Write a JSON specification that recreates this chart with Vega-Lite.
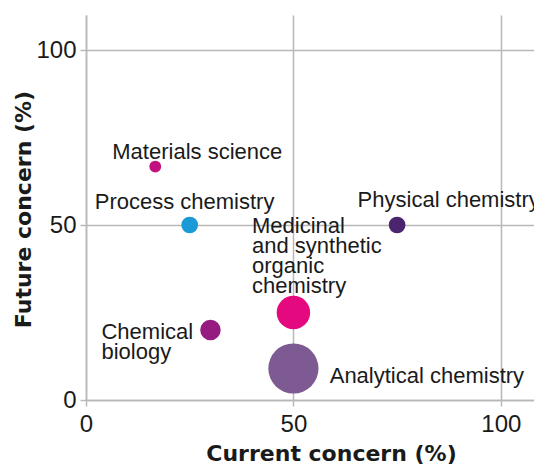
{
  "$schema": "https://vega.github.io/schema/vega-lite/v6.json",
  "autosize": {"type": "none"},
  "padding": {"left": 86, "top": 15, "right": 0, "bottom": 65},
  "width": 448,
  "height": 385,
  "background": "white",
  "config": {
    "view": {"stroke": null},
    "text": {"font": "Liberation Sans", "fontSize": 22, "color": "#1a1a1a", "lineHeight": 20, "lineBreak": "\n", "align": "left", "baseline": "alphabetic"}
  },
  "data": {
    "values": [
      {"field": "Materials science", "label": "Materials science", "current": 16.7, "future": 66.7, "n": 1},
      {"field": "Process chemistry", "label": "Process chemistry", "current": 25, "future": 50, "n": 2},
      {"field": "Physical chemistry", "label": "Physical chemistry", "current": 75, "future": 50, "n": 2},
      {"field": "Medicinal and synthetic organic chemistry", "label": "Medicinal\nand synthetic\norganic\nchemistry", "current": 50, "future": 25, "n": 8},
      {"field": "Chemical biology", "label": "Chemical\nbiology", "current": 30, "future": 20, "n": 3},
      {"field": "Analytical chemistry", "label": "Analytical chemistry", "current": 50, "future": 9, "n": 18}
    ]
  },
  "encoding": {
    "x": {
      "field": "current", "type": "quantitative",
      "scale": {"domain": [0, 108], "nice": false, "zero": true},
      "axis": {
        "values": [0, 50, 100], "grid": true, "gridColor": "#b8b8b8", "gridWidth": 1.5, "labelFlush": false,
        "domainColor": "#b8b8b8", "domainWidth": 1.5, "tickColor": "#b8b8b8", "tickWidth": 1.5, "tickSize": 6,
        "labelFont": "Liberation Sans", "labelFontSize": 24, "labelColor": "#1a1a1a", "labelPadding": 6,
        "title": "Current concern (%)", "titleFont": "DejaVu Sans", "titleFontSize": 22, "titleFontWeight": "bold",
        "titleColor": "#1a1a1a", "titleX": 245, "titleY": 60, "titleAlign": "center", "titleBaseline": "alphabetic"
      }
    },
    "y": {
      "field": "future", "type": "quantitative",
      "scale": {"domain": [0, 110], "nice": false, "zero": true},
      "axis": {
        "values": [0, 50, 100], "grid": true, "gridColor": "#b8b8b8", "gridWidth": 1.5, "labelFlush": false,
        "domainColor": "#b8b8b8", "domainWidth": 1.5, "tickColor": "#b8b8b8", "tickWidth": 1.5, "tickSize": 6,
        "labelFont": "Liberation Sans", "labelFontSize": 24, "labelColor": "#1a1a1a", "labelPadding": 4,
        "title": "Future concern (%)", "titleFont": "DejaVu Sans", "titleFontSize": 22, "titleFontWeight": "bold",
        "titleColor": "#1a1a1a", "titleX": -56, "titleY": 194, "titleAngle": -90, "titleAlign": "center", "titleBaseline": "alphabetic"
      }
    }
  },
  "layer": [
    {
      "mark": {"type": "circle", "opacity": 1},
      "encoding": {
        "size": {"field": "n", "type": "quantitative", "scale": {"domain": [0, 18], "range": [0, 2520]}, "legend": null},
        "color": {
          "field": "field", "type": "nominal", "legend": null,
          "scale": {
            "domain": ["Materials science", "Process chemistry", "Physical chemistry", "Medicinal and synthetic organic chemistry", "Chemical biology", "Analytical chemistry"],
            "range": ["#c2117e", "#1a9ad6", "#4b2470", "#e5097f", "#951b81", "#7d5a91"]
          }
        }
      }
    },
    {
      "transform": [{"filter": "datum.field === 'Materials science'"}],
      "mark": {"type": "text", "dx": -43, "dy": -8},
      "encoding": {"text": {"field": "label"}}
    },
    {
      "transform": [{"filter": "datum.field === 'Process chemistry'"}],
      "mark": {"type": "text", "dx": -95, "dy": -16},
      "encoding": {"text": {"field": "label"}}
    },
    {
      "transform": [{"filter": "datum.field === 'Physical chemistry'"}],
      "mark": {"type": "text", "dx": -39.5, "dy": -18},
      "encoding": {"text": {"field": "label"}}
    },
    {
      "transform": [{"filter": "datum.field === 'Medicinal and synthetic organic chemistry'"}],
      "mark": {"type": "text", "dx": -41.4, "dy": -79.3},
      "encoding": {"text": {"field": "label"}}
    },
    {
      "transform": [{"filter": "datum.field === 'Chemical biology'"}],
      "mark": {"type": "text", "dx": -109, "dy": 8.7},
      "encoding": {"text": {"field": "label"}}
    },
    {
      "transform": [{"filter": "datum.field === 'Analytical chemistry'"}],
      "mark": {"type": "text", "dx": 36.3, "dy": 14.5},
      "encoding": {"text": {"field": "label"}}
    }
  ]
}
